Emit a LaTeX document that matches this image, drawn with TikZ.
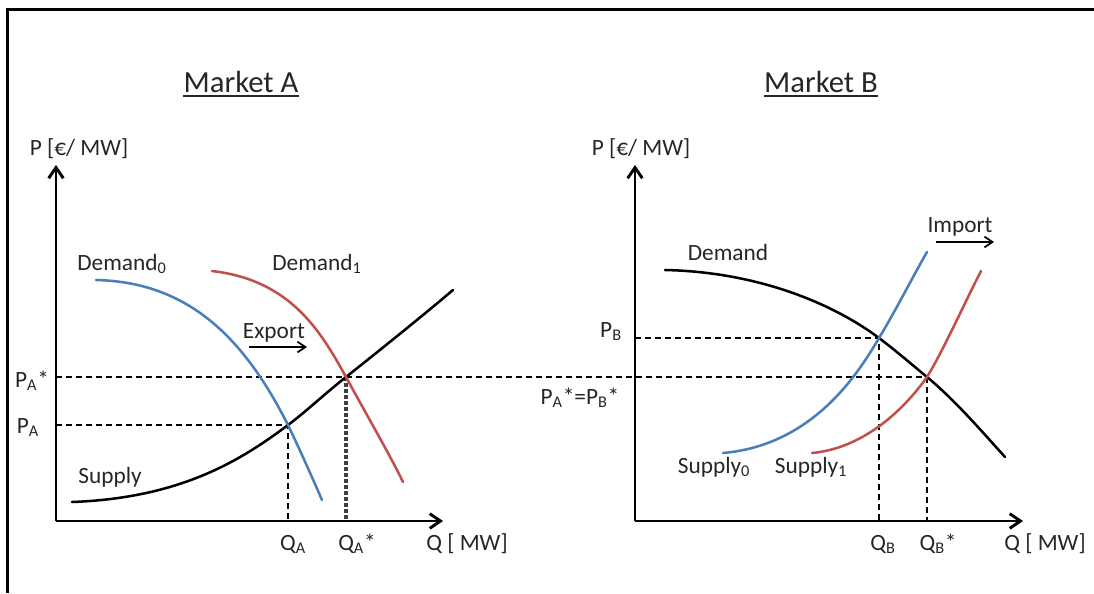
\documentclass[tikz,border=0pt]{standalone}
\usepackage{fontspec}
\setmainfont{Carlito}
\definecolor{demblue}{HTML}{4A7EBB}
\definecolor{supred}{HTML}{C0504D}
\definecolor{ink}{HTML}{262626}
\usetikzlibrary{arrows.meta}
\tikzset{
  axisline/.style={line width=2.2pt, -{Straight Barb[length=8pt,width=11pt]}},
  shiftarrow/.style={line width=1.3pt, -{Straight Barb[length=6pt,width=8pt]}},
  guide/.style={line width=0.9pt, dash pattern=on 4.5pt off 3pt},
  curve/.style={line width=1.9pt, line cap=round},
  lbl/.style={font=\fontsize{17.5}{20}\selectfont, text=ink, inner sep=0pt, anchor=base},
  title/.style={font=\fontsize{23}{27}\selectfont, text=ink, inner sep=0pt, anchor=base}
}

\begin{document}
\begin{tikzpicture}[x=0.75pt, y=-0.75pt]
  \useasboundingbox (0,0) rectangle (1094,593);
  % frame
  \draw[line width=2.3pt] (7.5,593) -- (7.5,9.5) -- (1094,9.5);

  % axes
  \coordinate (oA) at (56,521);  \coordinate (yA) at (56,165);  \coordinate (xA) at (443,521);
  \coordinate (oB) at (635,521); \coordinate (yB) at (635,165); \coordinate (xB) at (1023,521);
  \draw[axisline] (oA) -- (yA);
  \draw[axisline] (oA) -- (xA);
  \draw[axisline] (oB) -- (yB);
  \draw[axisline] (oB) -- (xB);

  % equilibria
  \coordinate (eA) at (288,425);  \coordinate (eAs) at (346,377);
  \coordinate (eB) at (879,338);  \coordinate (eBs) at (927,377);

  % guide lines
  \draw[guide] (oA |- eAs) -- (eBs);
  \draw[guide] (oA |- eA) -- (eA) -- (eA |- oA);
  \draw[guide] (oB |- eB) -- (eB) -- (eB |- oB);
  \draw[guide] (eBs) -- (eBs |- oB);
  \draw[line width=2.6pt, black!75, dash pattern=on 3pt off 1.5pt] (eAs) -- (eAs |- oA);

  % market A curves
  \draw[curve] (72,502) .. controls (180,498) and (240,461) .. (eA)
    .. controls (308,410) and (322,396) .. (eAs)
    .. controls (375,354) and (420,318) .. (453,290);
  \draw[curve, demblue] (96,280) .. controls (190,282) and (245,340) .. (eA)
    .. controls (300,450) and (312,477) .. (322,500);
  \draw[curve, supred] (212,271) .. controls (290,280) and (320,330) .. (eAs)
    .. controls (365,412) and (390,455) .. (403,482);

  % market B curves
  \draw[curve] (665,270) .. controls (760,272) and (835,305) .. (eB)
    .. controls (895,350) and (910,363) .. (eBs)
    .. controls (955,400) and (985,435) .. (1005,457);
  \draw[curve, demblue] (723,453) .. controls (815,445) and (860,370) .. (eB)
    .. controls (896,310) and (912,278) .. (927,252);
  \draw[curve, supred] (812,453) .. controls (865,448) and (905,408) .. (eBs)
    .. controls (943,351) and (965,302) .. (981,271);

  % titles
  \node[title] (titleA) at (241,92) {Market A};
  \node[title] (titleB) at (821,92) {Market B};
  \draw[line width=2.2pt, ink] ([yshift=-3pt]titleA.base west) -- ([yshift=-3pt]titleA.base east);
  \draw[line width=2.2pt, ink] ([yshift=-3pt]titleB.base west) -- ([yshift=-3pt]titleB.base east);

  % axis labels
  \node[lbl] (pA) at (79,155) {P [€/ MW]};
  \node[lbl] (pB) at (641,155) {P [€/ MW]};
  \node[lbl] (qA) at (467,550) {Q [ MW]};
  \node[lbl] (qB) at (1045,550) {Q [ MW]};

  % other labels
  \foreach \x/\y/\name/\txt in {
    32/387/lPAs/{P\textsubscript{A}*},
    28/433/lPA/{P\textsubscript{A}},
    293/550/lQA/{Q\textsubscript{A}},
    357/550/lQAs/{Q\textsubscript{A}*},
    611/337/lPB/{P\textsubscript{B}},
    580/404/lPABs/{P\textsubscript{A}*=P\textsubscript{B}*},
    883/550/lQB/{Q\textsubscript{B}},
    938/550/lQBs/{Q\textsubscript{B}*},
    122/270/lDem0/{Demand\textsubscript{0}},
    317/270/lDem1/{Demand\textsubscript{1}},
    274/338/lExp/{Export},
    110/483/lSupA/{Supply},
    728/260/lDemB/{Demand},
    960/232/lImp/{Import},
    714/473/lSup0/{Supply\textsubscript{0}},
    811/473/lSup1/{Supply\textsubscript{1}}} {
    \node[lbl] (\name) at (\x,\y) {\txt};
  }

  % shift arrows
  \coordinate (expS) at (249,347); \coordinate (expE) at (307,347);
  \coordinate (impS) at (936,242); \coordinate (impE) at (994,242);
  \draw[shiftarrow] (expS) -- (expE);
  \draw[shiftarrow] (impS) -- (impE);
\end{tikzpicture}
\end{document}
